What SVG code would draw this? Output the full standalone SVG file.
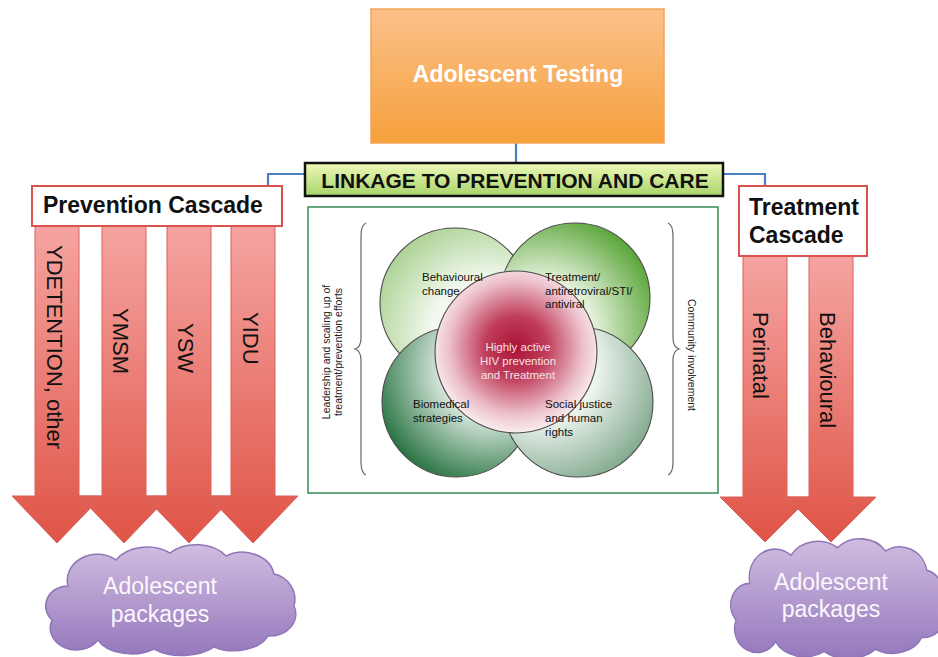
<svg xmlns="http://www.w3.org/2000/svg" width="938" height="657" viewBox="0 0 938 657">
<style>
.t{font-family:"Liberation Sans",Arial,sans-serif}
.b{font-weight:bold}
.arrow{fill:url(#arrowG);stroke:#d8625e;stroke-width:1}
.cascade{fill:#fff;stroke:#d9534f;stroke-width:2}
.conn{stroke:#4a80c4;stroke-width:2.2;fill:none}
.circ{stroke:#4a4a4a;stroke-width:1.1}
.ct{font-size:11.5px;fill:#111}
.cloud{fill:url(#cloudG);stroke:#8f74b8;stroke-width:1.5}
.cloudt{font-size:23px;fill:#fbf8fd;text-anchor:middle}
.at{font-size:22px;fill:#111}
.brace{fill:none;stroke:#666;stroke-width:1.2}
</style>
<defs>
<linearGradient id="topG" x1="0" y1="0" x2="0" y2="1"><stop offset="0" stop-color="#fbc18a"/><stop offset="1" stop-color="#f6a03c"/></linearGradient>
<linearGradient id="linkG" x1="0" y1="0" x2="0" y2="1"><stop offset="0" stop-color="#eef9b8"/><stop offset="1" stop-color="#a8d46a"/></linearGradient>
<linearGradient id="arrowG" x1="0" y1="0" x2="0" y2="1"><stop offset="0" stop-color="#f5a4a1"/><stop offset="1" stop-color="#df5446"/></linearGradient>
<linearGradient id="cloudG" x1="0" y1="0" x2="0" y2="1"><stop offset="0" stop-color="#d0bde0"/><stop offset="1" stop-color="#9578bd"/></linearGradient>
<radialGradient id="gTL" cx="0.72" cy="0.72" r="0.85"><stop offset="0" stop-color="#ffffff"/><stop offset="0.45" stop-color="#f2f8ee"/><stop offset="1" stop-color="#a6cf8d"/></radialGradient>
<radialGradient id="gTR" cx="0.28" cy="0.72" r="0.85"><stop offset="0" stop-color="#ffffff"/><stop offset="0.4" stop-color="#e6f2dc"/><stop offset="1" stop-color="#4d9f2b"/></radialGradient>
<radialGradient id="gBL" cx="0.72" cy="0.28" r="0.85"><stop offset="0" stop-color="#ffffff"/><stop offset="0.35" stop-color="#e3efe6"/><stop offset="1" stop-color="#1a6a36"/></radialGradient>
<radialGradient id="gBR" cx="0.28" cy="0.28" r="0.85"><stop offset="0" stop-color="#ffffff"/><stop offset="0.4" stop-color="#eef4ef"/><stop offset="1" stop-color="#7aa487"/></radialGradient>
<radialGradient id="gC" cx="0.5" cy="0.47" r="0.55"><stop offset="0" stop-color="#aa1236"/><stop offset="0.35" stop-color="#c03e5b"/><stop offset="0.75" stop-color="#ecc0ca"/><stop offset="1" stop-color="#fdf6f7"/></radialGradient>
<path id="cloudP" d="M30,42 A30,26 0 0 1 78,16 A36,26 0 0 1 132,9 A36,26 0 0 1 188,12 A32,26 0 0 1 236,30 A26,26 0 0 1 256,62 A26,22 0 0 1 230,92 A36,22 0 0 1 176,103 A40,22 0 0 1 116,105 A36,22 0 0 1 60,96 A26,22 0 0 1 14,76 A22,20 0 0 1 30,42 Z"/>
</defs>

<g id="connectors">
<path class="conn" d="M516,143 V164"/>
<path class="conn" d="M305,174 H268 V187"/>
<path class="conn" d="M723,174 H765 V187"/>
</g>

<g id="adolescent-testing">
<rect x="371" y="9" width="293" height="134" fill="url(#topG)" stroke="#f2a455" stroke-width="1.5"/>
<text class="t b" x="518" y="82" font-size="23" fill="#fff" text-anchor="middle">Adolescent Testing</text>
</g>

<g id="linkage">
<rect x="305" y="163" width="418" height="33" fill="url(#linkG)" stroke="#111" stroke-width="2.5"/>
<text class="t b" x="515" y="187.5" font-size="21" fill="#111" text-anchor="middle">LINKAGE TO PREVENTION AND CARE</text>
</g>

<g id="prevention-arrows">
<polygon class="arrow" points="35,226 79,226 79,496 102,496 57,543 12,496 35,496"/>
<polygon class="arrow" points="102,226 146,226 146,496 169,496 124,543 79,496 102,496"/>
<polygon class="arrow" points="167,226 211,226 211,496 234,496 189,543 144,496 167,496"/>
<polygon class="arrow" points="231,226 275,226 275,496 298,496 253,543 208,496 231,496"/>
<text class="t at" transform="translate(47,245) rotate(90)">YDETENTION, other</text>
<text class="t at" transform="translate(113,308) rotate(90)">YMSM</text>
<text class="t at" transform="translate(178,323) rotate(90)">YSW</text>
<text class="t at" transform="translate(243,312) rotate(90)">YIDU</text>
</g>

<g id="prevention-cascade">
<rect class="cascade" x="32" y="186" width="250" height="40"/>
<text class="t b" x="43" y="213" font-size="23" fill="#111">Prevention Cascade</text>
</g>

<g id="treatment-arrows">
<polygon class="arrow" points="743,256 787,256 787,497 810,497 765,542 720,497 743,497"/>
<polygon class="arrow" points="809,256 853,256 853,497 876,497 831,542 786,497 809,497"/>
<text class="t at" transform="translate(753,312) rotate(90)">Perinatal</text>
<text class="t at" transform="translate(820,312) rotate(90)">Behavioural</text>
</g>

<g id="treatment-cascade">
<rect class="cascade" x="739" y="186" width="128" height="70"/>
<text class="t b" x="749" y="215" font-size="23" fill="#111">Treatment</text>
<text class="t b" x="749" y="243" font-size="23" fill="#111">Cascade</text>
</g>

<g id="hiv-model">
<rect x="308" y="207" width="410" height="286" fill="#fff" stroke="#3a8a55" stroke-width="1.5"/>
<path class="brace" d="M366,223 Q361,225 361,236 V338 Q361,347 355,349 Q361,351 361,360 V462 Q361,473 366,475"/>
<path class="brace" d="M668,223 Q673,225 673,236 V338 Q673,347 679,349 Q673,351 673,360 V462 Q673,473 668,475"/>
<circle class="circ" cx="455" cy="303" r="75" fill="url(#gTL)"/>
<circle class="circ" cx="575" cy="298" r="75" fill="url(#gTR)"/>
<circle class="circ" cx="457" cy="402" r="75" fill="url(#gBL)"/>
<circle class="circ" cx="578" cy="402" r="75" fill="url(#gBR)"/>
<circle class="circ" cx="516" cy="352" r="81" fill="url(#gC)"/>
<text class="t ct" x="422" y="281">Behavioural</text>
<text class="t ct" x="422" y="295">change</text>
<text class="t ct" x="545" y="281">Treatment/</text>
<text class="t ct" x="545" y="295">antiretroviral/STI/</text>
<text class="t ct" x="545" y="308">antiviral</text>
<text class="t ct" x="413" y="408">Biomedical</text>
<text class="t ct" x="413" y="422">strategies</text>
<text class="t ct" x="545" y="408">Social justice</text>
<text class="t ct" x="545" y="422">and human</text>
<text class="t ct" x="545" y="436">rights</text>
<text class="t" x="518" y="351" font-size="11.5" fill="#f6e2e7" text-anchor="middle">Highly active</text>
<text class="t" x="518" y="365" font-size="11.5" fill="#f6e2e7" text-anchor="middle">HIV prevention</text>
<text class="t" x="518" y="379" font-size="11.5" fill="#f6e2e7" text-anchor="middle">and Treatment</text>
<text class="t" transform="translate(330,352) rotate(-90)" font-size="10.5" fill="#222" text-anchor="middle">Leadership and scaling up of<tspan x="0" dy="11.5">treatment/prevention efforts</tspan></text>
<text class="t" transform="translate(688,355) rotate(90)" font-size="10.5" fill="#222" text-anchor="middle">Community involvement</text>
</g>

<g id="cloud-left">
<use href="#cloudP" class="cloud" transform="translate(38,544)"/>
<text class="t cloudt" x="160" y="594">Adolescent</text>
<text class="t cloudt" x="160" y="622">packages</text>
</g>

<g id="cloud-right">
<use href="#cloudP" class="cloud" transform="translate(724,538) scale(0.86,1.08)"/>
<text class="t cloudt" x="831" y="590">Adolescent</text>
<text class="t cloudt" x="831" y="617">packages</text>
</g>
</svg>
